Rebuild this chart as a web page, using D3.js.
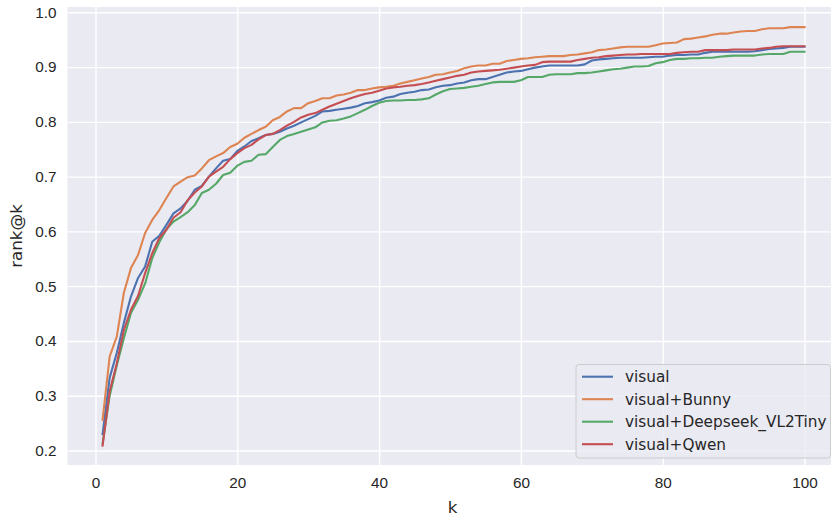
<!DOCTYPE html>
<html>
<head>
<meta charset="utf-8">
<script src="https://cdn.jsdelivr.net/npm/d3@7"></script>
<style>
  body { margin: 0; background: #fff; }
  svg { display: block; font-family: "DejaVu Sans", sans-serif; }
</style>
</head>
<body>
<svg id="chart"></svg>
<script>
// Data (rank@k for k = 1..100)
const kValues = d3.range(1, 101);
const xTicks = [0, 20, 40, 60, 80, 100];
const yTicks = [0.2, 0.3, 0.4, 0.5, 0.6, 0.7, 0.8, 0.9, 1.0];
const seriesNames = ['visual', 'visual+Bunny', 'visual+Deepseek_VL2Tiny', 'visual+Qwen'];

const visual = [
  0.230, 0.333, 0.378, 0.433, 0.481, 0.515, 0.536, 0.581, 0.592, 0.612,
  0.633, 0.642, 0.656, 0.676, 0.683, 0.700, 0.715, 0.729, 0.732, 0.747,
  0.755, 0.765, 0.770, 0.776, 0.778, 0.782, 0.788, 0.793, 0.799, 0.805,
  0.811, 0.819, 0.820, 0.822, 0.824, 0.826, 0.829, 0.834, 0.836, 0.839,
  0.844, 0.846, 0.851, 0.853, 0.855, 0.858, 0.859, 0.863, 0.866, 0.867,
  0.870, 0.872, 0.876, 0.878, 0.878, 0.882, 0.886, 0.890, 0.892, 0.893,
  0.896, 0.899, 0.901, 0.903, 0.903, 0.903, 0.903, 0.903, 0.905, 0.912,
  0.914, 0.915, 0.916, 0.917, 0.917, 0.917, 0.917, 0.918, 0.919, 0.919,
  0.921, 0.922, 0.922, 0.923, 0.923, 0.926, 0.928, 0.928, 0.928, 0.928,
  0.928, 0.928, 0.929, 0.931, 0.933, 0.934, 0.935, 0.937, 0.937, 0.937
];
const bunny = [
  0.256, 0.372, 0.408, 0.488, 0.533, 0.557, 0.597, 0.621, 0.639, 0.661,
  0.682, 0.691, 0.699, 0.702, 0.715, 0.730, 0.737, 0.743, 0.754, 0.760,
  0.771, 0.778, 0.785, 0.791, 0.803, 0.809, 0.819, 0.825, 0.825, 0.834,
  0.838, 0.843, 0.843, 0.848, 0.850, 0.853, 0.858, 0.858, 0.861, 0.863,
  0.864, 0.866, 0.870, 0.873, 0.876, 0.879, 0.882, 0.886, 0.887, 0.890,
  0.893, 0.898, 0.901, 0.903, 0.903, 0.906, 0.906, 0.911, 0.913, 0.915,
  0.916, 0.918, 0.919, 0.920, 0.920, 0.920, 0.922, 0.923, 0.925, 0.927,
  0.931, 0.932, 0.934, 0.936, 0.937, 0.937, 0.937, 0.937, 0.940, 0.943,
  0.944, 0.945, 0.951, 0.952, 0.954, 0.956, 0.959, 0.961, 0.961, 0.963,
  0.965, 0.966, 0.966, 0.969, 0.971, 0.971, 0.971, 0.973, 0.973, 0.973
];
const deepseek = [
  0.212, 0.300, 0.355, 0.405, 0.451, 0.475, 0.505, 0.551, 0.580, 0.604,
  0.618, 0.626, 0.635, 0.648, 0.670, 0.676, 0.687, 0.703, 0.707, 0.720,
  0.727, 0.729, 0.740, 0.741, 0.754, 0.767, 0.774, 0.778, 0.782, 0.786,
  0.790, 0.799, 0.802, 0.803, 0.806, 0.810, 0.816, 0.822, 0.829, 0.835,
  0.838, 0.839, 0.839, 0.840, 0.840, 0.841, 0.843, 0.850, 0.856, 0.860,
  0.861, 0.862, 0.864, 0.866, 0.869, 0.872, 0.873, 0.873, 0.873, 0.876,
  0.882, 0.882, 0.882, 0.886, 0.887, 0.887, 0.887, 0.889, 0.889, 0.890,
  0.892, 0.894, 0.896, 0.897, 0.899, 0.901, 0.901, 0.902, 0.907, 0.909,
  0.913, 0.915, 0.915, 0.916, 0.916, 0.917, 0.917, 0.919, 0.920, 0.921,
  0.921, 0.921, 0.921, 0.923, 0.924, 0.924, 0.924, 0.928, 0.928, 0.928
];
const qwen = [
  0.209, 0.308, 0.359, 0.420, 0.457, 0.482, 0.524, 0.560, 0.588, 0.603,
  0.625, 0.635, 0.657, 0.671, 0.682, 0.700, 0.709, 0.718, 0.732, 0.743,
  0.752, 0.758, 0.768, 0.776, 0.778, 0.785, 0.793, 0.800, 0.808, 0.813,
  0.816, 0.822, 0.828, 0.833, 0.838, 0.843, 0.847, 0.851, 0.853, 0.857,
  0.861, 0.863, 0.864, 0.866, 0.867, 0.869, 0.872, 0.875, 0.878, 0.881,
  0.884, 0.886, 0.890, 0.892, 0.893, 0.894, 0.895, 0.897, 0.899, 0.901,
  0.903, 0.904, 0.909, 0.910, 0.910, 0.910, 0.910, 0.913, 0.915, 0.917,
  0.918, 0.920, 0.921, 0.922, 0.923, 0.923, 0.924, 0.924, 0.924, 0.924,
  0.924, 0.926, 0.927, 0.928, 0.928, 0.931, 0.931, 0.931, 0.931, 0.932,
  0.932, 0.932, 0.932, 0.934, 0.935, 0.937, 0.938, 0.938, 0.938, 0.938
];

const seriesValues = [visual, bunny, deepseek, qwen];
const colors = ['#4C72B0', '#DD8452', '#55A868', '#C44E52'];

// SVG setup
const width = 831;
const height = 518;
const plot = { left: 67.5, right: 839.6, top: 7, bottom: 465 };

const svg = d3.select('#chart')
  .attr('width', width)
  .attr('height', height);

// Scales (matplotlib style 5% margins)
const xScale = d3.scaleLinear()
  .domain([-3.95, 104.95])
  .range([plot.left, plot.right]);

const yScale = d3.scaleLinear()
  .domain([0.1735, 1.0097])
  .range([plot.bottom, plot.top]);

// Axes background
svg.append('rect')
  .attr('x', plot.left)
  .attr('y', plot.top)
  .attr('width', plot.right - plot.left)
  .attr('height', plot.bottom - plot.top)
  .attr('fill', '#EAEAF2');

// Grid + tick labels through d3 axes
const xAxis = d3.axisBottom(xScale)
  .tickValues(xTicks)
  .tickSize(-(plot.bottom - plot.top))
  .tickPadding(12)
  .tickFormat(d3.format('d'));

const yAxis = d3.axisLeft(yScale)
  .tickValues(yTicks)
  .tickSize(-(plot.right - plot.left))
  .tickPadding(11)
  .tickFormat(d3.format('.1f'));

const gx = svg.append('g')
  .attr('transform', `translate(0, ${plot.bottom})`)
  .call(xAxis);

const gy = svg.append('g')
  .attr('transform', `translate(${plot.left}, 0)`)
  .call(yAxis);

[gx, gy].forEach(g => {
  g.select('.domain').remove();
  g.selectAll('.tick line')
    .attr('stroke', '#ffffff')
    .attr('stroke-width', 1.4);
  g.selectAll('.tick text')
    .attr('fill', '#262626')
    .attr('font-size', '15.3px');
});

// Axis labels
svg.append('text')
  .attr('x', (plot.left + plot.right) / 2 - 1)
  .attr('y', 513)
  .attr('text-anchor', 'middle')
  .attr('font-size', '16.7px')
  .attr('fill', '#262626')
  .text('k');

svg.append('text')
  .attr('transform', 'rotate(-90)')
  .attr('x', -(plot.top + plot.bottom) / 2)
  .attr('y', 22)
  .attr('text-anchor', 'middle')
  .attr('font-size', '16.7px')
  .attr('fill', '#262626')
  .text('rank@k');

// Lines
const line = d3.line()
  .x((d, i) => xScale(kValues[i]))
  .y(d => yScale(d));

seriesValues.forEach((values, i) => {
  svg.append('path')
    .datum(values)
    .attr('fill', 'none')
    .attr('stroke', colors[i])
    .attr('stroke-width', 2.1)
    .attr('stroke-linejoin', 'round')
    .attr('stroke-linecap', 'square')
    .attr('d', line);
});

// Legend (lower right)
const legend = svg.append('g');
legend.append('rect')
  .attr('x', 576)
  .attr('y', 364.5)
  .attr('width', 254.5)
  .attr('height', 93.5)
  .attr('rx', 3)
  .attr('fill', '#EAEAF2')
  .attr('fill-opacity', 0.8)
  .attr('stroke', '#CCCCCC')
  .attr('stroke-width', 1);

seriesNames.forEach((name, i) => {
  const cy = 376.7 + i * 22.5;
  legend.append('line')
    .attr('x1', 582)
    .attr('x2', 613)
    .attr('y1', cy)
    .attr('y2', cy)
    .attr('stroke', colors[i])
    .attr('stroke-width', 2.1);
  legend.append('text')
    .attr('x', 625)
    .attr('y', cy)
    .attr('dy', '0.35em')
    .attr('font-size', '15.3px')
    .attr('fill', '#262626')
    .text(name);
});
</script>
</body>
</html>
